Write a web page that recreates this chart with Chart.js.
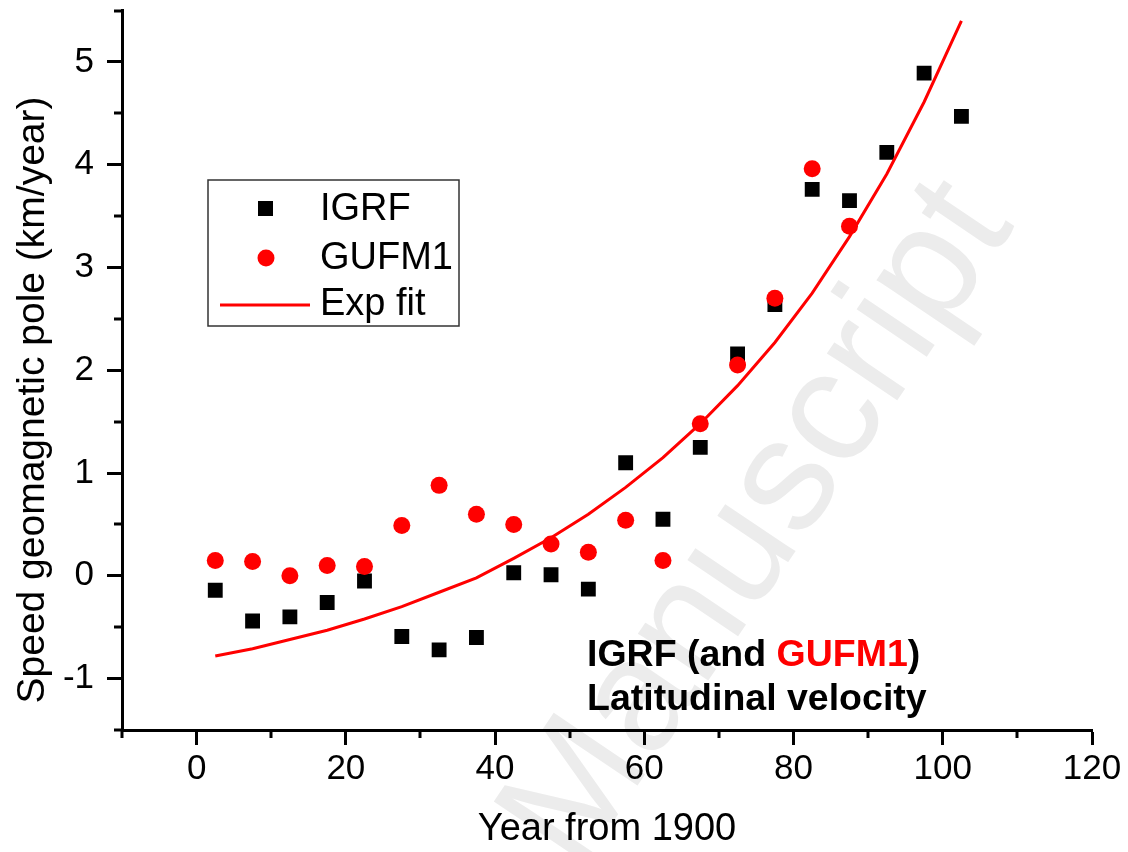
<!DOCTYPE html>
<html>
<head>
<meta charset="utf-8">
<script src="https://cdn.jsdelivr.net/npm/chart.js@4.4.1/dist/chart.umd.min.js"></script>
<style>
  body { margin: 0; background: #fff; }
  #wrap { width: 1128px; height: 852px; position: relative; }
</style>
</head>
<body>
<div id="wrap"><canvas id="myChart"></canvas></div>
<script>
// years from 1900 (mid points of 5 year bins)
let igrfX = [2.5, 7.5, 12.5, 17.5, 22.5, 27.5, 32.5, 37.5, 42.5, 47.5, 52.5, 57.5, 62.5, 67.5, 72.5, 77.5, 82.5, 87.5, 92.5, 97.5, 102.5]
let igrfY = [-0.14, -0.44, -0.40, -0.26, -0.05, -0.59, -0.72, -0.60, 0.03, 0.01, -0.13, 1.10, 0.55, 1.25, 2.16, 2.64, 3.76, 3.65, 4.12, 4.89, 4.47]

let gufmX = [2.5, 7.5, 12.5, 17.5, 22.5, 27.5, 32.5, 37.5, 42.5, 47.5, 52.5, 57.5, 62.5, 67.5, 72.5, 77.5, 82.5, 87.5]
let gufmY = [0.15, 0.14, 0.00, 0.10, 0.09, 0.49, 0.88, 0.60, 0.50, 0.31, 0.23, 0.54, 0.15, 1.48, 2.05, 2.70, 3.96, 3.40]

let fitX = [2.5, 7.5, 12.5, 17.5, 22.5, 27.5, 32.5, 37.5, 42.5, 47.5, 52.5, 57.5, 62.5, 67.5, 72.5, 77.5, 82.5, 87.5, 92.5, 97.5, 102.5]
let fitY = [-0.78, -0.71, -0.62, -0.53, -0.42, -0.30, -0.16, -0.02, 0.17, 0.37, 0.60, 0.86, 1.15, 1.48, 1.85, 2.27, 2.75, 3.30, 3.91, 4.61, 5.40]

let xTicks = [0, 20, 40, 60, 80, 100, 120]
let yTicks = [-1, 0, 1, 2, 3, 4, 5]
let xMinor = [-10, 10, 30, 50, 70, 90, 110]
let yMinor = [-1.5, -0.5, 0.5, 1.5, 2.5, 3.5, 4.5, 5.5]

const FONT = "'Liberation Sans', Arial, sans-serif"

function pts(xs, ys) {
    return xs.map((x, i) => ({ x: x, y: ys[i] }))
}

// light watermark behind the plot
const watermark = {
    id: 'watermark',
    beforeDraw(chart) {
        const ctx = chart.ctx
        ctx.save()
        ctx.translate(760, 525)
        ctx.rotate(-56 * Math.PI / 180)
        ctx.fillStyle = '#ececec'
        ctx.font = '160px ' + FONT
        ctx.textAlign = 'center'
        ctx.textBaseline = 'middle'
        ctx.fillText('Manuscript', 0, 0)
        ctx.restore()
    }
}

// minor ticks, y title, legend box and the note
const extras = {
    id: 'extras',
    afterDraw(chart) {
        const ctx = chart.ctx
        const xs = chart.scales.x
        const ys = chart.scales.y
        const area = chart.chartArea
        ctx.save()
        ctx.strokeStyle = '#000'
        ctx.lineWidth = 3
        for (const v of xMinor) {
            let px = Math.round(xs.getPixelForValue(v))
            ctx.beginPath()
            ctx.moveTo(px, area.bottom)
            ctx.lineTo(px, area.bottom + 8)
            ctx.stroke()
        }
        for (const v of yMinor) {
            let py = Math.round(ys.getPixelForValue(v))
            ctx.beginPath()
            ctx.moveTo(area.left, py)
            ctx.lineTo(area.left - 8, py)
            ctx.stroke()
        }

        // y title
        ctx.save()
        ctx.translate(44, 400)
        ctx.rotate(-Math.PI / 2)
        ctx.fillStyle = '#000'
        ctx.font = '39px ' + FONT
        ctx.textAlign = 'center'
        ctx.textBaseline = 'alphabetic'
        ctx.fillText('Speed geomagnetic pole (km/year)', 0, 0)
        ctx.restore()

        // legend
        ctx.lineWidth = 1.5
        ctx.strokeStyle = '#333'
        ctx.fillStyle = '#fff'
        ctx.fillRect(208, 180, 251, 146)
        ctx.strokeRect(208, 180, 251, 146)
        ctx.fillStyle = '#000'
        ctx.fillRect(258, 201, 15, 15)
        ctx.fillStyle = 'red'
        ctx.beginPath()
        ctx.arc(266, 258, 8.5, 0, Math.PI * 2)
        ctx.fill()
        ctx.strokeStyle = 'red'
        ctx.lineWidth = 3
        ctx.beginPath()
        ctx.moveTo(220, 305)
        ctx.lineTo(310, 305)
        ctx.stroke()
        ctx.fillStyle = '#000'
        ctx.font = '38px ' + FONT
        ctx.textBaseline = 'middle'
        ctx.fillText('IGRF', 320, 210)
        ctx.fillText('GUFM1', 320, 259)
        ctx.fillText('Exp fit', 320, 305)

        // note
        ctx.font = 'bold 37.5px ' + FONT
        ctx.textBaseline = 'alphabetic'
        let x0 = 587
        let p1 = 'IGRF (and '
        ctx.fillStyle = '#000'
        ctx.fillText(p1, x0, 666)
        let w1 = ctx.measureText(p1).width
        ctx.fillStyle = 'red'
        ctx.fillText('GUFM1', x0 + w1, 666)
        let w2 = ctx.measureText('GUFM1').width
        ctx.fillStyle = '#000'
        ctx.fillText(')', x0 + w1 + w2, 666)
        ctx.fillText('Latitudinal velocity', x0, 710)
        ctx.restore()
    }
}

const masspopChart = new Chart(document.getElementById('myChart'), {
    type: 'scatter',
    data: {
        datasets: [{
            label: 'IGRF',
            data: pts(igrfX, igrfY),
            pointStyle: 'rect',
            pointRadius: 10.5,
            pointHoverRadius: 10.5,
            backgroundColor: '#000',
            borderColor: '#000',
            borderWidth: 0,
            order: 2
        }, {
            label: 'GUFM1',
            data: pts(gufmX, gufmY),
            pointStyle: 'circle',
            pointRadius: 8.5,
            pointHoverRadius: 8.5,
            backgroundColor: 'red',
            borderColor: 'red',
            borderWidth: 0,
            order: 1
        }, {
            label: 'Exp fit',
            data: pts(fitX, fitY),
            showLine: true,
            pointRadius: 0,
            borderColor: 'red',
            borderWidth: 3,
            fill: false,
            order: 0
        }]
    },
    options: {
        responsive: true,
        maintainAspectRatio: false,
        animation: false,
        layout: { padding: { top: 10, right: 36, left: 0, bottom: 0 } },
        plugins: {
            legend: { display: false },
            tooltip: { enabled: false }
        },
        scales: {
            x: {
                type: 'linear',
                min: -10,
                max: 120,
                afterBuildTicks: s => { s.ticks = xTicks.map(v => ({ value: v })) },
                afterFit: s => { s.height = 122; s.paddingLeft = 0; s.paddingRight = 0 },
                grid: { drawOnChartArea: false, drawTicks: true, tickLength: 15, tickWidth: 3, tickColor: '#000' },
                border: { display: true, color: '#000', width: 3 },
                ticks: { color: '#000', font: { family: FONT, size: 35 }, padding: 3, maxRotation: 0 },
                title: { display: true, text: 'Year from 1900', color: '#000', font: { family: FONT, size: 38 }, padding: { top: 0, bottom: 0 } }
            },
            y: {
                type: 'linear',
                min: -1.5,
                max: 5.5,
                afterBuildTicks: s => { s.ticks = yTicks.map(v => ({ value: v })) },
                afterFit: s => { s.width = 122; s.paddingTop = 0; s.paddingBottom = 0 },
                grid: { drawOnChartArea: false, drawTicks: true, tickLength: 15, tickWidth: 3, tickColor: '#000' },
                border: { display: true, color: '#000', width: 3 },
                ticks: { color: '#000', font: { family: FONT, size: 35 }, padding: 13 },
                title: { display: false }
            }
        }
    },
    plugins: [watermark, extras]
})
</script>
</body>
</html>
